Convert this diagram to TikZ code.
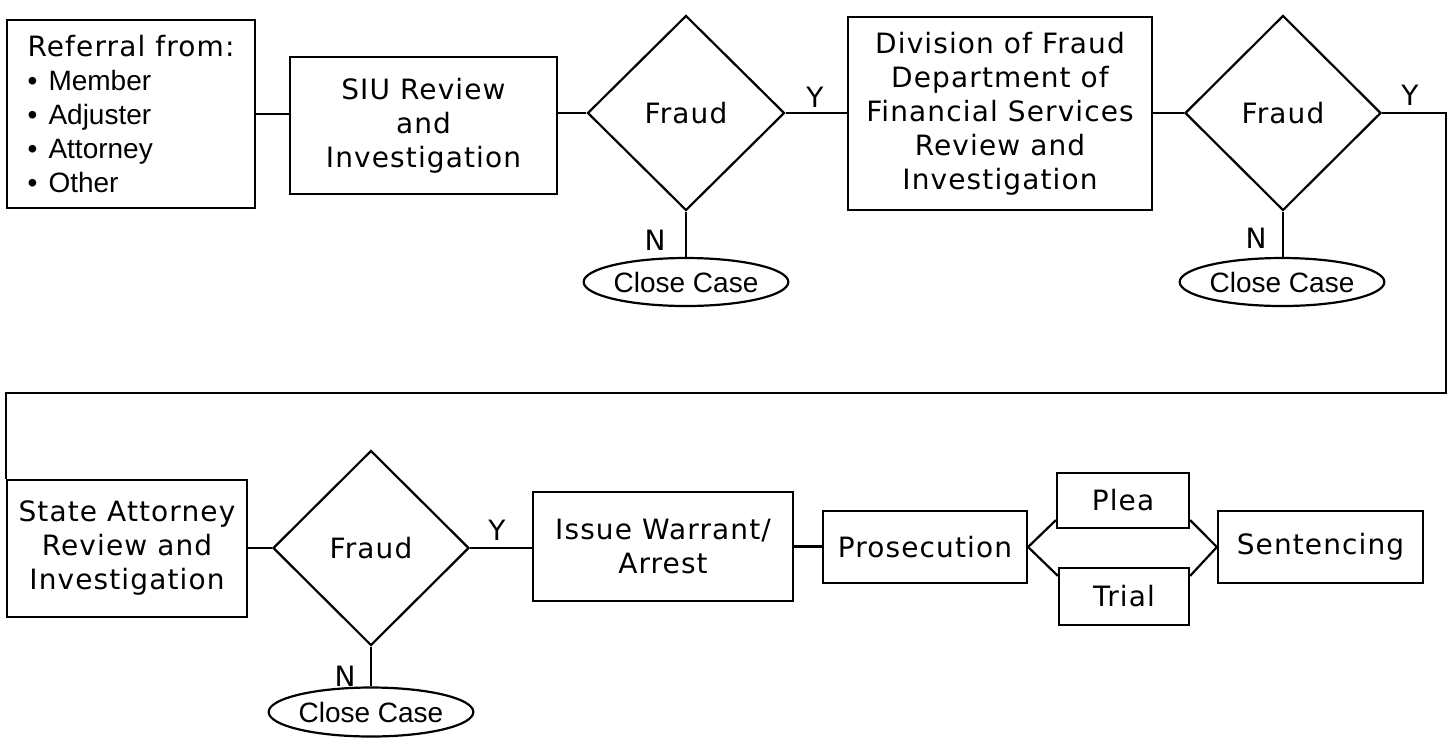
\documentclass[tikz,border=0pt]{standalone}
\usepackage{fontspec}
\setmainfont{DejaVu Sans}[LetterSpace=4]
\newfontfamily\arialf{Liberation Sans}
\usetikzlibrary{shapes.geometric,calc}
\begin{document}
\begin{tikzpicture}[x=0.5pt,y=-0.5pt, line width=1.1pt,
  txt/.style={font=\fontsize{14}{17}\selectfont},
  box/.style={draw, rectangle, inner sep=0pt, align=center, txt},
  dia/.style={draw, diamond, inner sep=0pt, shape aspect=1, txt},
  oval/.style={draw, ellipse, inner sep=0pt, font=\arialf\fontsize{14}{17}\selectfont},
  lab/.style={inner sep=0pt, txt}]
\useasboundingbox (0,0) rectangle (1450,745);

\node[box, align=left, minimum width=124pt, minimum height=94pt] (ref) at (131,114)
  {Referral from:\\
   {\arialf\makebox[10.5pt][l]{•}Member}\\
   {\arialf\makebox[10.5pt][l]{•}Adjuster}\\
   {\arialf\makebox[10.5pt][l]{•}Attorney}\\
   {\arialf\makebox[10.5pt][l]{•}Other}};
\node[box, minimum width=133.5pt, minimum height=68.5pt] (siu) at (423.5,125.5) {SIU Review\\and\\Investigation};
\node[dia, minimum width=98.5pt, minimum height=97.5pt] (f1) at (686,113) {Fraud};
\node[oval, minimum width=94.5pt, minimum height=24pt] (cc1) at (686,282) {Close Case};
\node[box, minimum width=152pt, minimum height=96.5pt] (div) at (1000,113.5)
  {Division of Fraud\\Department of\\Financial Services\\Review and\\Investigation};
\node[dia, minimum width=98pt, minimum height=97.5pt] (f2) at (1283,113) {Fraud};
\node[oval, minimum width=96pt, minimum height=24pt] (cc2) at (1282,282) {Close Case};

\node[box, minimum width=120pt, minimum height=68.5pt] (state) at (127,548.5) {State Attorney\\Review and\\Investigation};
\node[dia, minimum width=98pt, minimum height=97.5pt] (f3) at (371,548) {Fraud};
\node[oval, minimum width=95pt, minimum height=24.5pt] (cc3) at (371,712) {Close Case};
\node[box, minimum width=130pt, minimum height=54.5pt] (warrant) at (663,546.5) {Issue Warrant/\\Arrest};
\node[box, minimum width=102pt, minimum height=36pt] (pros) at (925,547) {Prosecution};
\node[box, minimum width=66pt, minimum height=27.5pt] (plea) at (1123,500.5) {Plea};
\node[box, minimum width=65pt, minimum height=28.5pt] (trial) at (1124,596.5) {Trial};
\node[box, minimum width=102.5pt, minimum height=36pt] (sent) at (1320.5,547) {Sentencing};

\node[lab] (y1) at (815,97) {Y};
\node[lab] (n1) at (655,240) {N};
\node[lab] (y2) at (1410,95) {Y};
\node[lab] (n2) at (1256,238) {N};
\node[lab] (y3) at (497,530) {Y};
\node[lab] (n3) at (345,676) {N};

\coordinate (c1) at (1446,393);

\draw (ref.east) -- (ref.east -| siu.west);
\draw (f1.west -| siu.east) -- (f1.west);
\draw (f1.east) -- (f1.east -| div.west);
\draw (f2.west -| div.east) -- (f2.west);
\draw (f1.south) -- (f1.south |- cc1.north);
\draw (f2.south) -- (f2.south |- cc2.north);
\draw (f2.east) -| (c1) -- (c1 -| state.north west) -- (state.north west);
\draw (f3.west -| state.east) -- (f3.west);
\draw (f3.south) -- (f3.south |- cc3.north);
\draw (f3.east) -- (f3.east -| warrant.west);
\draw (warrant.east) -- (warrant.east -| pros.west);
\draw (pros.east) -- ($(plea.south west)+(0,4.5pt)$);
\draw (pros.east) -- ($(trial.north west)+(0,-4.5pt)$);
\draw ($(plea.south east)+(0,4.5pt)$) -- (sent.west);
\draw ($(trial.north east)+(0,-4.5pt)$) -- (sent.west);
\end{tikzpicture}
\end{document}
